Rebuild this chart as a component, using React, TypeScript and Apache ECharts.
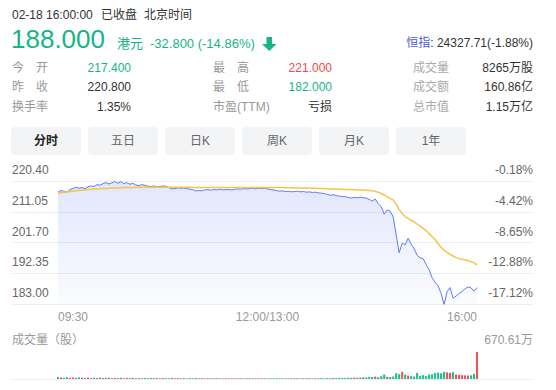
import React, { useEffect, useRef } from 'react';
import * as echarts from 'echarts';

// ---------- data ----------
const prevClose = 220.8;
const yMin = 183.0;
const yMax = 220.4;
const yStep = 9.35;
const volMax = 670.61;

const price = [
  217.0, 217.5, 217.3, 217.0, 217.8, 218.1, 218.5, 218.2, 218.4, 218.1,
  218.6, 218.9, 218.7, 219.3, 219.1, 219.6, 219.9, 219.5, 219.8, 220.3,
  219.7, 220.2, 219.6, 219.9, 219.4, 219.7, 219.2, 219.0, 219.3, 219.1,
  218.8, 218.7, 218.9, 218.6, 218.7, 218.9, 218.8, 218.4, 218.0, 218.1,
  218.3, 218.2, 218.3, 218.1, 217.9, 217.8, 217.4, 217.5, 217.4, 217.7,
  217.8, 217.6, 217.8, 217.7, 217.9, 217.7, 217.8, 217.8, 217.7, 217.9,
  218.0, 217.9, 218.1, 218.0, 218.1, 218.2, 218.0, 218.2, 218.1, 218.2,
  218.0, 217.8, 217.7, 217.5, 217.3, 217.4, 217.2, 217.3, 217.1, 217.2,
  217.3, 217.1, 217.2, 217.0, 217.1, 216.9, 217.0, 216.8, 216.7, 216.6,
  216.3, 216.1, 216.2, 216.0, 215.8, 215.7, 215.6, 215.4, 215.2, 215.4,
  215.3, 215.5, 215.3, 215.2, 214.8, 214.3, 214.9, 213.5, 212.6, 210.3,
  211.6, 211.2, 209.5, 204.0, 198.6, 201.5, 201.0, 203.0, 201.2, 199.8,
  197.8, 197.0, 196.8, 195.0, 193.4, 191.0, 189.6, 188.5, 186.2, 182.8,
  186.8, 188.0, 184.8, 185.4, 186.2, 186.8, 187.6, 188.2, 187.9, 186.9,
  188.0,
];

const avgPrice = [
  216.7, 216.9, 217.0, 217.1, 217.2, 217.3, 217.4, 217.5, 217.6, 217.7,
  217.8, 217.9, 217.95, 218.0, 218.05, 218.1, 218.15, 218.2, 218.25, 218.3,
  218.3, 218.35, 218.4, 218.4, 218.45, 218.45, 218.5, 218.5, 218.5, 218.5,
  218.5, 218.5, 218.5, 218.5, 218.5, 218.5, 218.5, 218.5, 218.5, 218.5,
  218.5, 218.5, 218.5, 218.5, 218.5, 218.45, 218.45, 218.45, 218.4, 218.4,
  218.4, 218.4, 218.4, 218.4, 218.4, 218.4, 218.4, 218.4, 218.4, 218.4,
  218.4, 218.4, 218.4, 218.4, 218.4, 218.4, 218.4, 218.4, 218.4, 218.4,
  218.4, 218.4, 218.4, 218.4, 218.4, 218.4, 218.35, 218.35, 218.35, 218.3,
  218.3, 218.3, 218.3, 218.25, 218.25, 218.2, 218.2, 218.15, 218.1, 218.1,
  218.05, 218.0, 218.0, 217.95, 217.9, 217.9, 217.85, 217.8, 217.8, 217.75,
  217.7, 217.7, 217.65, 217.6, 217.5, 217.4, 217.25, 217.0, 216.6, 216.1,
  215.6, 215.1, 214.6, 213.3, 211.7, 210.5, 209.6, 209.0, 208.4, 208.0,
  207.3, 206.7, 206.0, 205.3, 204.4, 203.5, 202.6, 201.3, 200.2, 199.4,
  198.7, 198.1, 197.6, 197.1, 196.8, 196.6, 196.4, 196.2, 195.9, 195.5,
  194.9,
];

// volume in 万股
const volume = [
  52, 38, 30, 44, 28, 35, 26, 40, 31, 27,
  36, 24, 30, 26, 34, 25, 29, 32, 22, 28,
  25, 31, 20, 26, 23, 29, 21, 25, 19, 24,
  22, 27, 20, 23, 18, 25, 21, 19, 30, 20,
  22, 18, 21, 17, 23, 19, 26, 18, 22, 16,
  20, 19, 17, 21, 18, 16, 20, 17, 19, 15,
  18, 20, 16, 19, 17, 15, 18, 16, 19, 17,
  14, 18, 16, 20, 17, 15, 19, 16, 18, 17,
  21, 16, 19, 18, 22, 17, 20, 19, 23, 18,
  25, 21, 27, 24, 30, 26, 28, 32, 29, 35,
  33, 35, 45, 40, 55, 50, 60, 45, 70, 110,
  55, 50, 60, 145, 120, 180, 110, 85, 70, 60,
  150, 80, 95, 70, 110, 120, 150, 160, 140, 175,
  165, 155, 170, 110, 100, 95, 90, 85, 90, 130,
  670.61,
];

const tickIdx = [0, 70, 140];
const tickLabels = ['09:30', '12:00/13:00', '16:00'];
const categories = price.map((_, i) => String(i));

// ---------- styles ----------
const GREEN = '#17b487';
const RED = '#f04a4a';
const BLUE = '#5b7cf2';
const YELLOW = '#f6c544';
const FONT = '"Liberation Sans", Arial, "Noto Sans CJK SC", sans-serif';

type TOpt = { fill?: string; size?: number; weight?: string; align?: string };
const txt = (x: number, y: number, text: string, o: TOpt = {}) => ({
  type: 'text',
  x,
  y,
  silent: true,
  style: {
    text,
    fill: o.fill || '#333',
    fontSize: o.size || 12,
    fontFamily: FONT,
    fontWeight: o.weight || 'normal',
    align: o.align || 'left',
    textAlign: o.align || 'left',
    verticalAlign: 'middle',
    textVerticalAlign: 'middle',
  },
});

const tabs = ['分时', '五日', '日K', '周K', '月K', '1年'];

export default function App() {
  const ref = useRef<HTMLDivElement>(null);
  useEffect(() => {
    if (!ref.current) return;
    const chart = echarts.init(ref.current, undefined, { renderer: 'svg' });
    const yRange = +(yMax - yMin).toFixed(2);
    const graphics: any[] = [
      txt(12, 15, '02-18 16:00:00'),
      txt(101, 15, '已收盘'),
      txt(144, 15, '北京时间'),
      txt(11, 39, '188.000', { fill: GREEN, size: 26 }),
      txt(117, 43, '港元', { fill: GREEN, size: 13 }),
      txt(150, 43, '-32.800 (-14.86%)', { fill: GREEN, size: 13 }),
      {
        type: 'polygon',
        silent: true,
        shape: {
          points: [
            [266.5, 37], [272, 37], [272, 44], [276.5, 44],
            [269.25, 51], [262, 44], [266.5, 44],
          ],
        },
        style: { fill: GREEN },
      },
      {
        type: 'text',
        x: 533,
        y: 43,
        silent: true,
        style: {
          text: '{b|恒指}: 24327.71(-1.88%)',
          fill: '#333',
          fontSize: 12,
          fontFamily: FONT,
          align: 'right',
          textAlign: 'right',
          verticalAlign: 'middle',
          textVerticalAlign: 'middle',
          rich: { b: { fill: '#4a5bd4', color: '#4a5bd4', fontSize: 12, fontFamily: FONT } },
        },
      },
      // row 1
      txt(12, 68, '今　开', { fill: '#999' }),
      txt(131, 68, '217.400', { fill: GREEN, align: 'right' }),
      txt(213, 68, '最　高', { fill: '#999' }),
      txt(332, 68, '221.000', { fill: RED, align: 'right' }),
      txt(413, 68, '成交量', { fill: '#aaa' }),
      txt(533, 68, '8265万股', { align: 'right' }),
      // row 2
      txt(12, 87, '昨　收', { fill: '#999' }),
      txt(131, 87, '220.800', { align: 'right' }),
      txt(213, 87, '最　低', { fill: '#999' }),
      txt(332, 87, '182.000', { fill: GREEN, align: 'right' }),
      txt(413, 87, '成交额', { fill: '#aaa' }),
      txt(533, 87, '160.86亿', { align: 'right' }),
      // row 3
      txt(12, 107, '换手率', { fill: '#999' }),
      txt(131, 107, '1.35%', { align: 'right' }),
      txt(213, 107, '市盈(TTM)', { fill: '#999' }),
      txt(332, 107, '亏损', { align: 'right' }),
      txt(413, 107, '总市值', { fill: '#aaa' }),
      txt(533, 107, '1.15万亿', { align: 'right' }),
      // volume title
      txt(12, 340, '成交量（股）', { fill: '#999' }),
    ];
    tabs.forEach((name, k) => {
      const x = 11 + k * 77;
      graphics.push({
        type: 'rect',
        silent: true,
        shape: { x, y: 127, width: 70, height: 28, r: 4 },
        style: { fill: '#f3f4f6' },
      });
      graphics.push(
        txt(x + 35, 141, name, {
          align: 'center',
          fill: k === 0 ? '#222' : '#666',
          weight: k === 0 ? 'bold' : 'normal',
        })
      );
    });

    const axisBase = {
      type: 'value' as const,
      min: 0,
      max: yRange,
      interval: yStep,
      axisLine: { show: false },
      axisTick: { show: false },
    };

    chart.setOption({
      animation: false,
      backgroundColor: '#fff',
      graphic: { elements: graphics },
      grid: [
        { left: 12, right: 23, top: 181, bottom: 86 },
        { left: 58, right: 79, top: 181, bottom: 86 },
        { left: 12, right: 23, top: 352, bottom: 11 },
        { left: 58, right: 79, top: 352, bottom: 11 },
      ],
      xAxis: [
        { gridIndex: 0, type: 'value', show: false, min: 0, max: 1 },
        {
          gridIndex: 1,
          type: 'category',
          data: categories,
          boundaryGap: false,
          axisLine: { show: false },
          axisTick: { show: false },
          splitLine: { show: false },
          axisLabel: {
            interval: (i: number) => tickIdx.includes(i),
            formatter: (_v: string, i: number) => {
              const k = tickIdx.indexOf(i);
              return k >= 0 ? tickLabels[k] : '';
            },
            color: '#999',
            fontSize: 12,
            fontFamily: FONT,
            margin: 7,
            alignMinLabel: 'left',
            alignMaxLabel: 'right',
          },
        },
        {
          gridIndex: 2,
          type: 'value',
          min: 0,
          max: 1,
          axisLine: { show: true, lineStyle: { color: '#ebedf0' } },
          axisTick: { show: false },
          axisLabel: { show: false },
          splitLine: { show: false },
        },
        { gridIndex: 3, type: 'category', data: categories, boundaryGap: false, show: false },
      ],
      yAxis: [
        {
          ...axisBase,
          gridIndex: 0,
          position: 'left',
          splitLine: { show: true, lineStyle: { color: '#eceef2' } },
          axisLabel: {
            inside: true,
            margin: 0,
            color: '#666',
            fontSize: 12,
            fontFamily: FONT,
            verticalAlign: 'bottom',
            lineHeight: 22,
            formatter: (v: number) => (v + yMin).toFixed(2),
          },
        },
        {
          ...axisBase,
          gridIndex: 0,
          position: 'right',
          splitLine: { show: false },
          axisLabel: {
            inside: true,
            margin: 0,
            color: '#666',
            fontSize: 12,
            fontFamily: FONT,
            verticalAlign: 'bottom',
            lineHeight: 22,
            formatter: (v: number) => (((v + yMin) / prevClose - 1) * 100).toFixed(2) + '%',
          },
        },
        { gridIndex: 1, type: 'value', min: 0, max: yRange, show: false },
        {
          gridIndex: 2,
          type: 'value',
          min: 0,
          max: volMax,
          interval: volMax,
          position: 'right',
          axisLine: { show: false },
          axisTick: { show: false },
          splitLine: { show: false },
          axisLabel: {
            inside: true,
            margin: 0,
            color: '#999',
            fontSize: 12,
            fontFamily: FONT,
            verticalAlign: 'bottom',
            lineHeight: 24,
            formatter: (v: number) => (v >= volMax ? volMax.toFixed(2) + '万' : ''),
          },
        },
        { gridIndex: 3, type: 'value', min: 0, max: volMax, show: false },
      ],
      series: [
        {
          type: 'line',
          xAxisIndex: 1,
          yAxisIndex: 2,
          data: price.map((v) => +(v - yMin).toFixed(3)),
          showSymbol: false,
          symbol: 'none',
          lineStyle: { color: BLUE, width: 1 },
          areaStyle: {
            color: new echarts.graphic.LinearGradient(0, 0, 0, 1, [
              { offset: 0, color: 'rgba(92,120,240,0.26)' },
              { offset: 1, color: 'rgba(92,120,240,0.03)' },
            ]),
          },
          z: 2,
        },
        {
          type: 'line',
          xAxisIndex: 1,
          yAxisIndex: 2,
          data: avgPrice.map((v) => +(v - yMin).toFixed(3)),
          showSymbol: false,
          symbol: 'none',
          lineStyle: { color: YELLOW, width: 1.5 },
          z: 3,
        },
        {
          type: 'bar',
          xAxisIndex: 3,
          yAxisIndex: 4,
          barWidth: '70%',
          data: volume.map((v, i) => ({
            value: v,
            itemStyle: {
              color: price[i] >= (i === 0 ? prevClose : price[i - 1]) ? '#f55353' : '#1fbf8f',
            },
          })),
        },
      ],
    });
    return () => chart.dispose();
  }, []);
  return (
    <div
      ref={ref}
      style={{ position: 'absolute', left: 0, top: 0, width: 556, height: 390, background: '#fff' }}
    />
  );
}
